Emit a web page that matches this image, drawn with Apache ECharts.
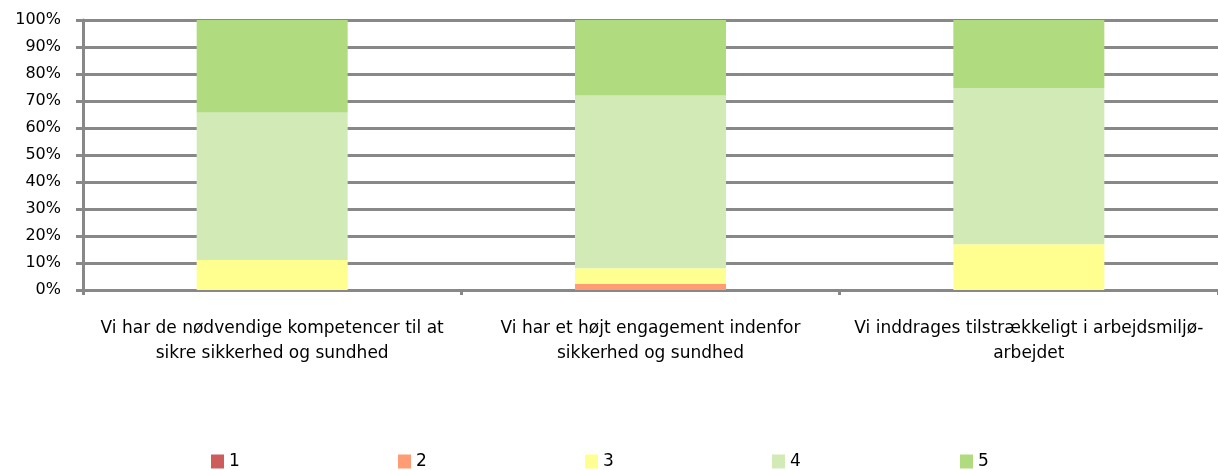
<!DOCTYPE html>
<html>
<head>
<meta charset="utf-8">
<script src="https://cdn.jsdelivr.net/npm/echarts@6/dist/echarts.min.js"></script>
<style>html,body{margin:0;padding:0;background:#fff}#c{width:1218px;height:470px}</style>
</head>
<body>
<div id="c"></div>
<script>
const categories = [
  "Vi har de nødvendige kompetencer til at\nsikre sikkerhed og sundhed",
  "Vi har et højt engagement indenfor\nsikkerhed og sundhed",
  "Vi inddrages tilstrækkeligt i arbejdsmiljø-\narbejdet"
];
const seriesNames = ["1", "2", "3", "4", "5"];
const s1 = [0, 0, 0];
const s2 = [0, 2.2, 0];
const s3 = [11.1, 5.9, 16.9];
const s4 = [54.6, 63.9, 57.8];
const s5 = [34.3, 28.0, 25.3];
const colors = ["#CD5C5C", "#FF9C75", "#FFFF90", "#D2EBB6", "#B0DC7F"];
const legendLeft = [211, 398, 585, 772, 960];

const values = [s1, s2, s3, s4, s5];
const FONT = "'DejaVu Sans', sans-serif";
const grid = '#888888';

const chart = echarts.init(document.getElementById('c'));
chart.setOption({
  animation: false,
  grid: { left: 83, top: 20, width: 1140, height: 270, containLabel: false },
  legend: seriesNames.map((n, i) => ({
    data: [n], left: legendLeft[i] - 5, top: 448, itemWidth: 13, itemHeight: 14, itemGap: 6,
    icon: 'rect', textStyle: { fontFamily: FONT, fontSize: 17, color: '#000' }
  })),
  xAxis: {
    type: 'category', data: categories,
    axisLine: { show: true, lineStyle: { color: grid, width: 3 } },
    axisTick: { show: true, length: 5, lineStyle: { color: grid, width: 3 }, interval: 0 },
    axisLabel: { fontFamily: FONT, fontSize: 17, color: '#000', lineHeight: 25, margin: 26, interval: 0 }
  },
  yAxis: {
    type: 'value', min: 0, max: 100, interval: 10,
    axisLabel: { formatter: '{value}%', fontFamily: FONT, fontSize: 16, color: '#000', margin: 22 },
    axisLine: { show: true, lineStyle: { color: grid, width: 3 } },
    axisTick: { show: true, length: 7, lineStyle: { color: grid, width: 3 } },
    splitLine: { show: true, lineStyle: { color: grid, width: 3 } }
  },
  series: seriesNames.map((n, i) => ({
    name: n, type: 'bar', stack: 'total', data: values[i], barWidth: 151,
    itemStyle: { color: colors[i] }
  }))
});
</script>
</body>
</html>
